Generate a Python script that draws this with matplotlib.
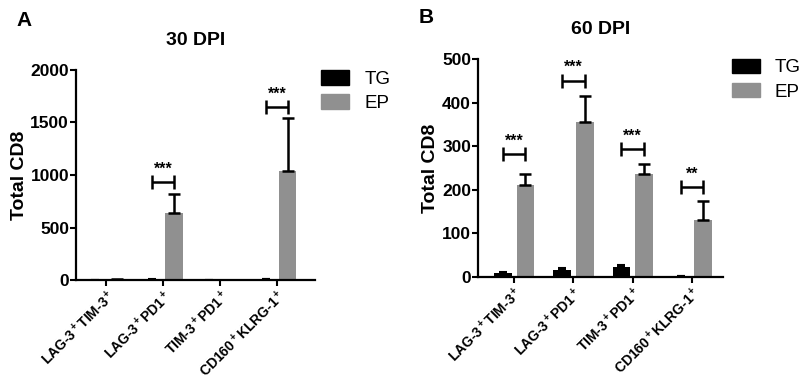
import numpy as np
import matplotlib
matplotlib.use("Agg")
import matplotlib.pyplot as plt
from matplotlib.patches import Patch

plt.rcParams["font.family"] = ["Liberation Sans", "DejaVu Sans"]
plt.rcParams["mathtext.fontset"] = "custom"
plt.rcParams["mathtext.rm"] = "Liberation Sans:bold"
plt.rcParams["mathtext.default"] = "rm"

categories = [r"LAG-3$^+$TIM-3$^+$", r"LAG-3$^+$PD1$^+$",
              r"TIM-3$^+$PD1$^+$", r"CD160$^+$KLRG-1$^+$"]

# 30 DPI
tg_30 = [4, 5, 1, 8]
tg_30_err = [1, 1, 1, 2]
ep_30 = [5, 640, 3, 1040]
ep_30_err = [2, 180, 1, 500]
sig_30_y = [None, 930, None, 1650]
sig_30_txt = [None, "***", None, "***"]

# 60 DPI
tg_60 = [9, 16, 24, 2]
tg_60_err = [2, 4, 4, 1]
ep_60 = [210, 355, 237, 130]
ep_60_err = [26, 60, 23, 45]
sig_60_y = [282, 450, 293, 206]
sig_60_txt = ["***", "***", "***", "**"]

TG_COLOR = "black"
EP_COLOR = "#909090"

fig = plt.figure(figsize=(8, 3.8), dpi=100)


def panel(rect, tg, tg_err, ep, ep_err, sig_y, sig_txt, ymax, yticks, xlim,
          title, letter, letter_pos, legend_pos):
    ax = fig.add_axes(rect)
    x = np.arange(len(categories))
    off = 0.19
    w = 0.3
    ax.bar(x - off, tg, w, color=TG_COLOR, zorder=2)
    ax.bar(x + off, ep, w, color=EP_COLOR, zorder=2)
    ax.errorbar(x - off, tg, yerr=[np.zeros(len(tg)), tg_err], fmt="none",
                ecolor="black", elinewidth=1.5, capsize=3, capthick=1.5, zorder=3)
    ax.errorbar(x + off, ep, yerr=[np.zeros(len(ep)), ep_err], fmt="none",
                ecolor="black", elinewidth=1.8, capsize=4.5, capthick=1.8, zorder=3)
    for i, (yy, t) in enumerate(zip(sig_y, sig_txt)):
        if yy is None:
            continue
        ax.errorbar([i], [yy], xerr=[[off], [off]], fmt="none", ecolor="black",
                    elinewidth=1.8, capsize=5, capthick=1.8)
        ax.text(i, yy + ymax * 0.025, t, ha="center", va="bottom",
                fontsize=11.5, fontweight="bold")
    ax.set_xlim(*xlim)
    ax.set_ylim(0, ymax)
    ax.set_yticks(yticks)
    ax.set_xticks(x)
    ax.set_xticklabels(categories, rotation=45, ha="right", rotation_mode="anchor",
                       fontsize=10, fontweight="bold")
    for lab in ax.get_yticklabels():
        lab.set_fontweight("bold")
        lab.set_fontsize(12.5)
    ax.tick_params(width=1.5, length=4.5, direction="out")
    ax.tick_params(axis="x", pad=1)
    ax.tick_params(axis="y", pad=0.5)
    for s in ["top", "right"]:
        ax.spines[s].set_visible(False)
    for s in ["left", "bottom"]:
        ax.spines[s].set_linewidth(1.6)
    ax.set_ylabel("Total CD8", fontsize=14, fontweight="bold", labelpad=2)
    ax.set_title(title, fontsize=14, fontweight="bold", pad=18)
    fig.text(letter_pos[0], letter_pos[1], letter, fontsize=15, fontweight="bold",
             ha="left", va="top")
    handles = [Patch(color=TG_COLOR, label="TG"), Patch(color=EP_COLOR, label="EP")]
    fig.legend(handles=handles, loc="upper left", bbox_to_anchor=legend_pos,
               frameon=False, fontsize=13.5, handlelength=1.5, handleheight=0.8,
               handletextpad=0.8, labelspacing=0.35, borderaxespad=0)
    return ax


panel([0.095, 0.263, 0.299, 0.553], tg_30, tg_30_err, ep_30, ep_30_err,
      sig_30_y, sig_30_txt, 2000, [0, 500, 1000, 1500, 2000], (-0.53, 3.67),
      "30 DPI", "A", (0.02, 0.97), (0.392, 0.835))
panel([0.5975, 0.271, 0.306, 0.574], tg_60, tg_60_err, ep_60, ep_60_err,
      sig_60_y, sig_60_txt, 500, [0, 100, 200, 300, 400, 500], (-0.61, 3.52),
      "60 DPI", "B", (0.523, 0.978), (0.905, 0.865))

fig.savefig("out.png", dpi=100)
